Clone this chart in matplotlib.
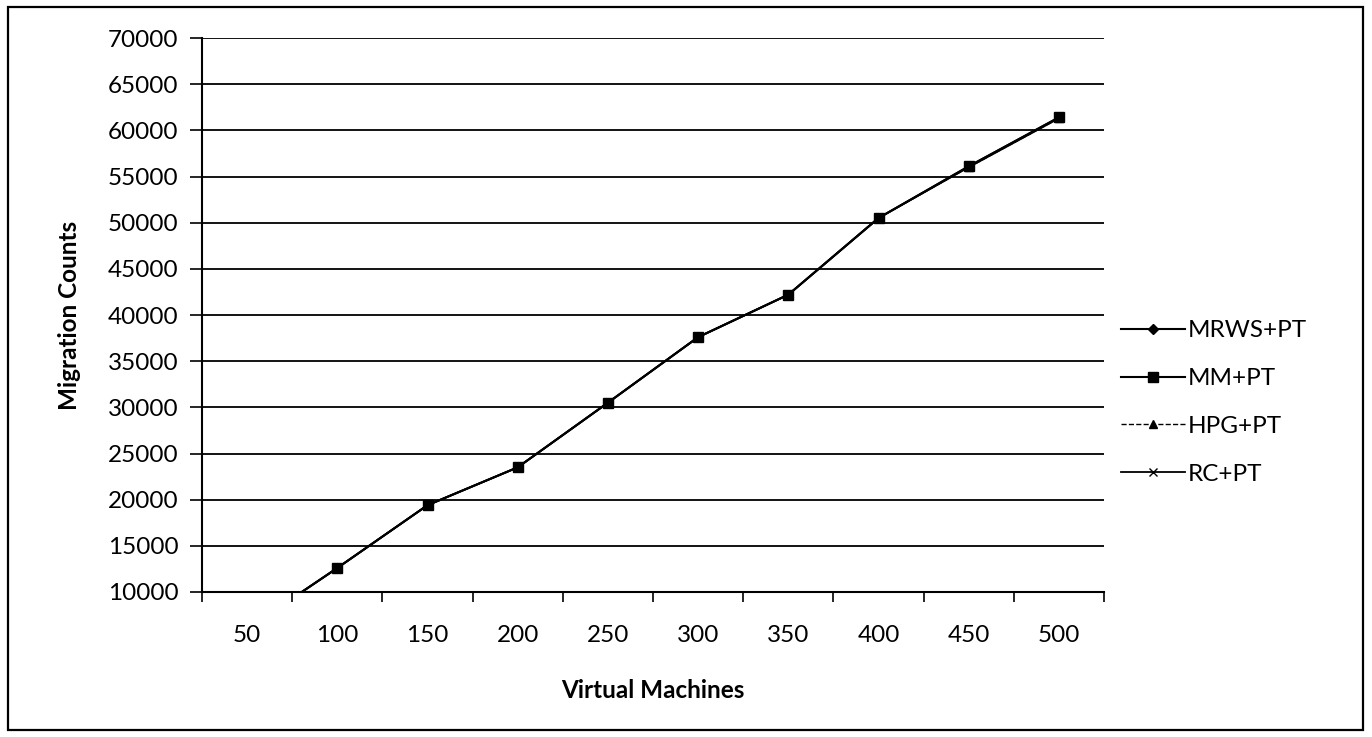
import numpy as np
import matplotlib
matplotlib.use('Agg')
import matplotlib.pyplot as plt
from matplotlib.patches import Rectangle

plt.rcParams['font.family'] = ['Lato', 'DejaVu Sans']

vms = [50, 100, 150, 200, 250, 300, 350, 400, 450, 500]
mrws_pt = [6000, 12600, 19400, 23500, 30500, 37600, 42200, 50500, 56100, 61400]
mm_pt = [6000, 12600, 19400, 23500, 30500, 37600, 42200, 50500, 56100, 61400]
hpg_pt = [6000, 12600, 19400, 23500, 30500, 37600, 42200, 50500, 56000, 61300]
rc_pt = [6000, 12600, 19400, 23500, 30500, 37600, 42200, 50500, 56000, 61300]

fig = plt.figure(figsize=(13.72, 7.37), dpi=100)
ax = fig.add_axes([202/1372, 1-592/737, (1104-202)/1372, (592-38)/737])

# outer chart frame
fig.patches.append(Rectangle((8/1372, 7/737), 1355/1372, 723/737, transform=fig.transFigure,
                             fill=False, edgecolor='black', linewidth=1.6))

ax.plot(vms, mrws_pt, color='black', lw=1.5, marker='D', ms=5, label='MRWS+PT')
ax.plot(vms, mm_pt, color='black', lw=1.5, marker='s', ms=7, label='MM+PT')
ax.plot(vms, hpg_pt, color='black', lw=1.0, ls='--', marker='^', ms=6, label='HPG+PT')
ax.plot(vms, rc_pt, color='black', lw=1.3, marker='x', ms=6, label='RC+PT')

ax.set_xlim(25, 525)
ax.set_ylim(10000, 70000)
ax.set_yticks(np.arange(10000, 70001, 5000))
ax.set_xticks(vms)
ax.set_xticks(np.arange(25, 526, 50), minor=True)
ax.tick_params(axis='x', which='major', length=0, pad=24, labelsize=17.5)
ax.tick_params(axis='x', which='minor', length=7, width=1.2, direction='out')
ax.tick_params(axis='y', length=9, width=1.2, direction='out', pad=8, labelsize=17.5)
ax.grid(axis='y', color='black', linewidth=1.3)
ax.set_axisbelow(True)

for s in ['top', 'right']:
    ax.spines[s].set_visible(False)
ax.spines['left'].set_linewidth(1.5)
ax.spines['bottom'].set_linewidth(1.5)

ax.set_xlabel('Virtual Machines', fontsize=17.5, fontweight='bold', labelpad=23.5)
ax.set_ylabel('Migration Counts', fontsize=17.5, fontweight='bold', labelpad=19)

ax.legend(loc='center left', bbox_to_anchor=(0.995, 0.342), frameon=False, fontsize=17.5,
          handlelength=2.6, labelspacing=1.1, handletextpad=0.15)

fig.savefig('out.png', dpi=100)
